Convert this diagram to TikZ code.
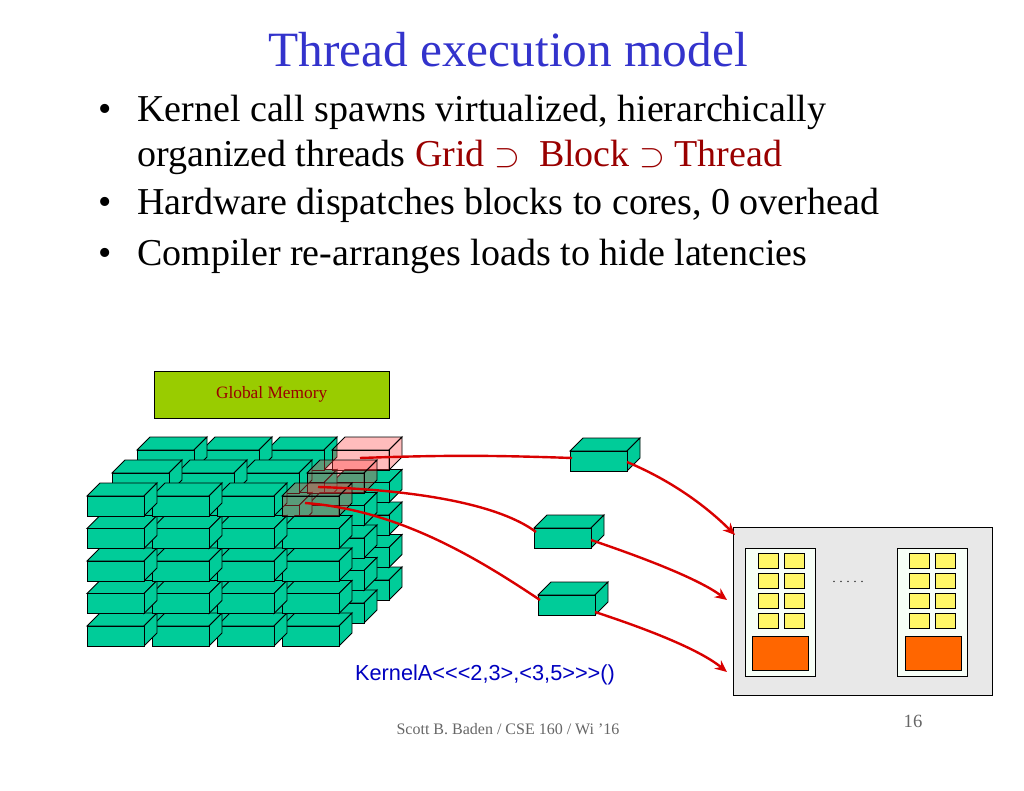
\documentclass[tikz,border=0pt]{standalone}
\usepackage{fontspec}
\setmainfont{Liberation Serif}
\newfontfamily\arial{Liberation Sans}
\usetikzlibrary{arrows.meta}
\definecolor{gfront}{HTML}{00CC99}
\definecolor{gtop}{HTML}{33DDAA}
\definecolor{gside}{HTML}{00A57C}
\definecolor{ttl}{HTML}{3333CC}
\definecolor{dred}{HTML}{990000}
\newcommand\cub[3]{%
 \filldraw[#3] (#1,#2) -- ++(13,-13) -- ++(57,0) -- ++(-13,13) -- cycle;
 \filldraw[#3] (#1+57,#2) -- ++(13,-13) -- ++(0,20) -- ++(-13,13) -- cycle;
 \filldraw[#3] (#1,#2) rectangle ++(57,20);}
\tikzset{gb/.style={draw=black,line width=0.7pt},
 rb/.style={draw=black,line width=0.7pt,fill=red!75,fill opacity=0.35},
 conn/.style={red!85!black,line width=1.8pt},
 ca/.style={conn,-{Stealth[length=9pt,width=8pt]}},
 sq/.style={draw=black,fill=yellow!60,line width=0.5pt},
 btxt/.style={anchor=base west,font=\fontsize{28.5}{32}\selectfont,inner sep=0}}
\begin{document}
\begin{tikzpicture}[x=0.75pt,y=-0.75pt]
\useasboundingbox (0,0) rectangle (1024,791);
\node[font=\fontsize{37}{40}\selectfont,text=ttl] (title) at (508,50) {Thread execution model};
\node[btxt] (b1) at (98,122) {\textbullet};
\node[btxt] (l1) at (137,122) {Kernel call spawns virtualized, hierarchically};
\node[btxt] (l2) at (137,167) {organized threads \textcolor{dred}{Grid $\supset$\ \ Block $\supset$ Thread}};
\node[btxt] (b2) at (98,215) {\textbullet};
\node[btxt] (l3) at (137,215) {Hardware dispatches blocks to cores, 0 overhead};
\node[btxt] (b3) at (98,266) {\textbullet};
\node[btxt] (l4) at (137,266) {Compiler re-arranges loads to hide latencies};
\node[draw=black,fill={rgb,255:red,153;green,204;blue,0},minimum width=176pt,minimum height=35pt,anchor=north west,inner sep=0,font=\fontsize{13}{15}\selectfont,text=dred] (gm) at (154,371) {Global Memory};
% grid of blocks
\foreach \k in {2,1,0}{
 \foreach \r in {4,3,2,1,0}{
  \foreach \c in {3,2,1,0}{
   \pgfmathsetmacro\bx{87+65*\c+25*\k}
   \pgfmathsetmacro\by{496+32.5*\r-23*\k}
   \ifnum\r=0 \ifnum\c=3 \else \cub{\bx}{\by}{gb,fill=gfront}\fi
   \else \cub{\bx}{\by}{gb,fill=gfront}\fi
  }}
 \pgfmathsetmacro\bx{87+195+25*\k}
 \pgfmathsetmacro\by{496-23*\k}
 \cub{\bx}{\by}{rb}
}
% separate blocks
\cub{570}{451}{gb,fill=gfront}
\cub{534}{528}{gb,fill=gfront}
\cub{538}{595}{gb,fill=gfront}
\coordinate (s1) at (360,458);
\coordinate (s2) at (318,487);
\coordinate (s3) at (305,503);
\coordinate (t1) at (572,458);
\coordinate (t2) at (536,532);
\coordinate (t3) at (540,600);
\coordinate (u1) at (627,462);
\coordinate (u2) at (591,540);
\coordinate (u3) at (595,612);
% device
\filldraw[draw=black,fill=gray!18,line width=0.7pt] (733,527) rectangle (992,695);
\node[draw=none,inner sep=0] (dev) at (862,611) {};
\coordinate (d1) at (735,535);
\coordinate (d2) at (727,600);
\coordinate (d3) at (727,672);
\foreach \px/\qx/\ox in {745/758/752,897/909/905}{
 \filldraw[draw=black,fill=green!3,line width=0.7pt] (\px,548) rectangle ++(70,128);
 \foreach \j in {0,1,2,3}{
  \filldraw[sq] (\qx,553+20*\j) rectangle ++(20,15);
  \filldraw[sq] (\qx+26,553+20*\j) rectangle ++(20,15);}
 \filldraw[draw=black,fill={rgb,255:red,255;green,102;blue,0},line width=0.7pt] (\ox,636) rectangle ++(56,34);
}
\node[font=\small] (dots) at (848,582) {. . . . .};
\draw[conn] (s1) to[bend left=2] (t1);
\draw[conn] (s2) .. controls (420,490) and (500,505) .. (t2);
\draw[conn] (s3) .. controls (400,510) and (480,560) .. (t3);
\draw[ca] (u1) .. controls (670,480) and (705,505) .. (d1);
\draw[ca] (u2) .. controls (650,560) and (700,580) .. (d2);
\draw[ca] (u3) .. controls (650,630) and (700,650) .. (d3);
\node[font=\arial\fontsize{16.3}{18}\selectfont,text=blue!75!black] (kl) at (485,675) {KernelA<{}<{}<2,3>,<3,5>{}>{}>()};
\node[font=\fontsize{12}{14}\selectfont,text=gray!80!black] (ft) at (508,729) {Scott B. Baden / CSE 160 / Wi '16};
\node[font=\fontsize{14}{16}\selectfont,text=gray!80!black] (pg) at (913,721) {16};
\end{tikzpicture}
\end{document}
